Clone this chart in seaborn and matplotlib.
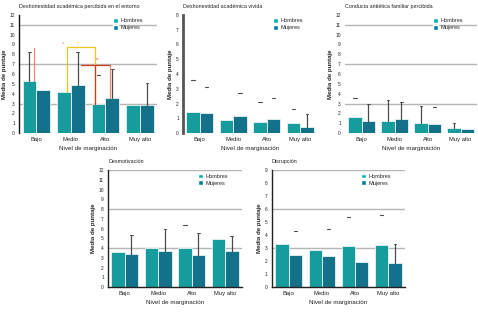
import numpy as np
import pandas as pd
import matplotlib
matplotlib.use("Agg")
import matplotlib.pyplot as plt
import seaborn as sns
from matplotlib.patches import Patch

sns.set_theme(style="white")
plt.rcParams['font.family'] = ['Liberation Sans', 'DejaVu Sans']

categories = ["Bajo", "Medio", "Alto", "Muy alto"]
sexes = ["Hombres", "Mujeres"]
N = None

# Panel 1
p1_title = "Deshonestidad académica percibida en el entorno"
p1_h = [5.24, 4.22, 2.97, 2.84]
p1_m = [4.39, 4.90, 3.51, 2.84]
p1_h_line = [8.28, N, N, N]
p1_m_line = [N, 8.2, 6.49, 5.1]
p1_h_dash = [N, N, 5.9, N]
p1_m_dash = [N, N, N, N]

# Panel 2
p2_title = "Deshonestidad académica vivida"
p2_h = [1.46, 0.86, 0.77, 0.70]
p2_m = [1.35, 1.17, 0.95, 0.41]
p2_h_line = [N, N, N, N]
p2_m_line = [N, N, N, 1.28]
p2_h_dash = [3.6, N, 2.1, 1.64]
p2_m_dash = [3.09, 2.7, 2.4, N]

# Panel 3
p3_title = "Conducta antiética familiar percibida"
p3_h = [1.62, 1.25, 1.01, 0.47]
p3_m = [1.18, 1.42, 0.91, 0.37]
p3_h_line = [N, 3.38, 2.7, 1.01]
p3_m_line = [2.97, 3.18, N, N]
p3_h_dash = [3.6, N, N, N]
p3_m_dash = [N, N, 2.6, N]

# Panel 4
p4_title = "Desmotivación"
p4_h = [3.60, 4.05, 4.05, 4.97]
p4_m = [3.36, 3.74, 3.33, 3.74]
p4_h_line = [N, N, N, N]
p4_m_line = [5.31, 6.0, 5.59, 5.28]
p4_h_dash = [N, N, 6.34, N]
p4_m_dash = [N, N, N, N]

# Panel 5
p5_title = "Disrupción"
p5_h = [3.34, 2.88, 3.19, 3.27]
p5_m = [2.50, 2.42, 1.91, 1.86]
p5_h_line = [N, N, N, N]
p5_m_line = [N, N, N, 3.32]
p5_h_dash = [N, N, 5.38, 5.56]
p5_m_dash = [4.36, 4.46, N, N]

colors = ["#00B2B5", "#007D9E"]

fig = plt.figure(figsize=(4.78, 3.23), dpi=100)

panels = [
    dict(title=p1_title, h=p1_h, m=p1_m, hl=p1_h_line, ml=p1_m_line, hd=p1_h_dash, md=p1_m_dash,
         ymax=12, grid=[3, 7, 11], rect=[0.040, 0.588, 0.289, 0.366], spine="#111111", slw=1.0, bottom=False),
    dict(title=p2_title, h=p2_h, m=p2_m, hl=p2_h_line, ml=p2_m_line, hd=p2_h_dash, md=p2_m_dash,
         ymax=8, grid=[], rect=[0.383, 0.588, 0.280, 0.366], spine="#555555", slw=2.0, bottom=False),
    dict(title=p3_title, h=p3_h, m=p3_m, hl=p3_h_line, ml=p3_m_line, hd=p3_h_dash, md=p3_m_dash,
         ymax=12, grid=[3, 7, 11], rect=[0.722, 0.588, 0.276, 0.366], spine=None, slw=0, bottom=False),
    dict(title=p4_title, h=p4_h, m=p4_m, hl=p4_h_line, ml=p4_m_line, hd=p4_h_dash, md=p4_m_dash,
         ymax=12, grid=[4, 8, 12], rect=[0.226, 0.111, 0.280, 0.362], spine="#222222", slw=1.0, bottom=True),
    dict(title=p5_title, h=p5_h, m=p5_m, hl=p5_h_line, ml=p5_m_line, hd=p5_h_dash, md=p5_m_dash,
         ymax=9, grid=[3, 6, 9], rect=[0.569, 0.111, 0.278, 0.362], spine="#222222", slw=1.0, bottom=True),
]

axes = []
for p in panels:
    ax = fig.add_axes(p["rect"])
    axes.append(ax)
    df = pd.DataFrame({
        "Nivel": categories * 2,
        "Sexo": [sexes[0]] * 4 + [sexes[1]] * 4,
        "Media": list(p["h"]) + list(p["m"]),
    })
    for g in p["grid"]:
        ax.axhline(g, color="#b5b5b5", lw=1.0, zorder=0)
    sns.barplot(data=df, x="Nivel", y="Media", hue="Sexo", order=categories,
                hue_order=sexes, palette=colors, width=0.8, ax=ax,
                edgecolor="#e8f4f4", linewidth=0.6, legend=False, zorder=2)
    bars = [b for b in ax.patches if b.get_height() > 0][:8]
    centers = [b.get_x() + b.get_width() / 2 for b in bars]
    hc, mc = centers[:4], centers[4:]
    for xs, tops, lines, dashes in [(hc, p["h"], p["hl"], p["hd"]), (mc, p["m"], p["ml"], p["md"])]:
        for x, t, l, d in zip(xs, tops, lines, dashes):
            if l is not None:
                ax.plot([x, x], [t, l], color="#4a4a4a", lw=0.9, zorder=3)
                ax.plot([x - 0.04, x + 0.04], [l, l], color="#4a4a4a", lw=0.7, zorder=3)
            if d is not None:
                ax.plot([x - 0.05, x + 0.05], [d, d], color="#4a4a4a", lw=0.8, zorder=3)
    ax.set_ylim(0, p["ymax"])
    ax.set_xlim(-0.5, 3.5)
    ax.set_yticks(range(0, p["ymax"] + 1))
    ax.tick_params(axis="y", labelsize=3.5, length=0, pad=3, labelcolor="#222222")
    ax.tick_params(axis="x", labelsize=4.2, length=0, pad=3, labelcolor="#222222")
    ax.set_xlabel("Nivel de marginación", fontsize=4.5, labelpad=3, color="#222222")
    ax.set_ylabel("Media de puntaje", fontsize=4.4, labelpad=2, color="#222222", fontweight="bold")
    ax.set_title(p["title"], fontsize=3.9, loc="left", pad=5, color="#222222")
    for s in ["top", "right"]:
        ax.spines[s].set_visible(False)
    if p["spine"]:
        ax.spines["left"].set_color(p["spine"])
        ax.spines["left"].set_linewidth(p["slw"])
    else:
        ax.spines["left"].set_visible(False)
    if p["bottom"]:
        ax.spines["bottom"].set_color("#222222")
        ax.spines["bottom"].set_linewidth(1.0)
    else:
        ax.spines["bottom"].set_visible(False)
    handles = [Patch(facecolor=colors[0], label=sexes[0]), Patch(facecolor=colors[1], label=sexes[1])]
    ax.legend(handles=handles, loc="upper right", bbox_to_anchor=(0.92, 1.0), frameon=False,
              fontsize=4.0, handlelength=0.9, handleheight=0.9, handletextpad=0.5,
              labelspacing=0.3, borderaxespad=0.2)

# significance annotations on panel 1
ax = axes[0]
bars = [b for b in ax.patches if b.get_height() > 0][:8]
c = [b.get_x() + b.get_width() / 2 for b in bars]
ax.plot([c[1] + 0.1, c[1] + 0.1, c[2] - 0.1, c[2] - 0.1], [p1_h[1], 8.72, 8.72, p1_h[2]],
        color="#F5C518", lw=0.9, zorder=4)
ax.plot([c[5] + 0.1, c[6] - 0.07], [6.9, 6.9], color="#D23A1A", lw=0.9, zorder=4)
ax.plot([c[2] - 0.1, c[2] - 0.1], [p1_h[2], 6.9], color="#D23A1A", lw=0.9, zorder=5)
ax.plot([c[6] - 0.07, c[6] - 0.07], [p1_m[2], 6.9], color="#F08A70", lw=0.9, zorder=4)
ax.plot([c[0] + 0.12, c[0] + 0.12], [p1_h[0], 8.6], color="#F08A70", lw=0.9, zorder=4)
ax.text(c[1] - 0.02, 9.1, "*", color="#F08A70", fontsize=4.5, ha="center", va="center")
ax.text(c[5] + 0.02, 9.1, "*", color="#F5C518", fontsize=4.5, ha="center", va="center")
ax.text(c[2] - 0.05, 7.45, "*", color="#D23A1A", fontsize=4.5, ha="center", va="center")

fig.savefig("out.png", dpi=100)
